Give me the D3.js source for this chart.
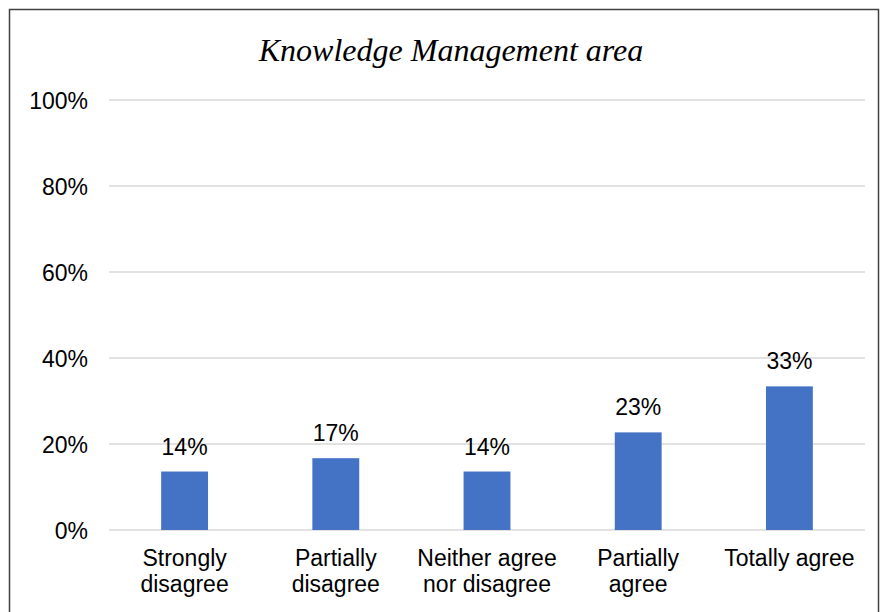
<!DOCTYPE html>
<html>
<head>
<meta charset="utf-8">
<script src="https://cdn.jsdelivr.net/npm/d3@7"></script>
<style>
	body { margin: 0; background: #fff; }
	svg { display: block; }
	text { font-family: Arial, 'Liberation Sans', sans-serif; fill: #000; }
</style>
</head>
<body>
<script>
const categories = ['Strongly disagree', 'Partially disagree', 'Neither agree nor disagree', 'Partially agree', 'Totally agree']
const labelLines = [['Strongly', 'disagree'], ['Partially', 'disagree'], ['Neither agree', 'nor disagree'], ['Partially', 'agree'], ['Totally agree']]
const values = [0.136, 0.167, 0.136, 0.227, 0.334]
const valueLabels = ['14%', '17%', '14%', '23%', '33%']
const ticks = [0, 0.2, 0.4, 0.6, 0.8, 1]

const width = 880, height = 612
const svg = d3.select('body').append('svg').attr('width', width).attr('height', height)

// chart frame
svg.append('rect')
	.attr('x', 9.5).attr('y', 9.5).attr('width', 869).attr('height', 620)
	.attr('fill', '#fff').attr('stroke', '#404040').attr('stroke-width', 1.5)

svg.append('text')
	.attr('x', 451).attr('y', 61)
	.attr('text-anchor', 'middle')
	.style('font-family', "'Liberation Serif', 'Times New Roman', serif")
	.style('font-style', 'italic')
	.style('font-size', '32px')
	.text('Knowledge Management area')

const x = d3.scaleBand().domain(categories).range([109, 865]).paddingInner(0.69).paddingOuter(0.345)
const y = d3.scaleLinear().domain([0, 1]).range([530, 100])

// gridlines
svg.append('g').selectAll('line').data(ticks).join('line')
	.attr('x1', 109).attr('x2', 865)
	.attr('y1', d => y(d)).attr('y2', d => y(d))
	.attr('stroke', '#d9d9d9').attr('stroke-width', 1.5)

const yAxis = svg.append('g').attr('transform', 'translate(109,0)')
	.call(d3.axisLeft(y).tickValues(ticks).tickFormat(d3.format('.0%')).tickSize(0).tickPadding(21))
yAxis.select('.domain').remove()
yAxis.selectAll('text').style('font-size', '23px').attr('dy', '0.35em')

svg.append('g').selectAll('rect').data(values).join('rect')
	.attr('x', (_, i) => x(categories[i]))
	.attr('y', d => y(d))
	.attr('width', x.bandwidth())
	.attr('height', d => y(0) - y(d))
	.attr('fill', '#4472c4')

svg.append('g').selectAll('text').data(values).join('text')
	.attr('x', (_, i) => x(categories[i]) + x.bandwidth() / 2)
	.attr('y', d => y(d) - 17)
	.attr('text-anchor', 'middle')
	.style('font-size', '23px')
	.text((_, i) => valueLabels[i])

const xl = svg.append('g').selectAll('text').data(labelLines).join('text')
	.attr('x', (_, i) => x(categories[i]) + x.bandwidth() / 2)
	.attr('y', 566)
	.attr('text-anchor', 'middle')
	.style('font-size', '23px')
xl.each(function (lines, i) {
	d3.select(this).selectAll('tspan').data(lines).join('tspan')
		.attr('x', x(categories[i]) + x.bandwidth() / 2)
		.attr('dy', (_, j) => j ? 26 : 0)
		.text(d => d)
})
</script>
</body>
</html>
